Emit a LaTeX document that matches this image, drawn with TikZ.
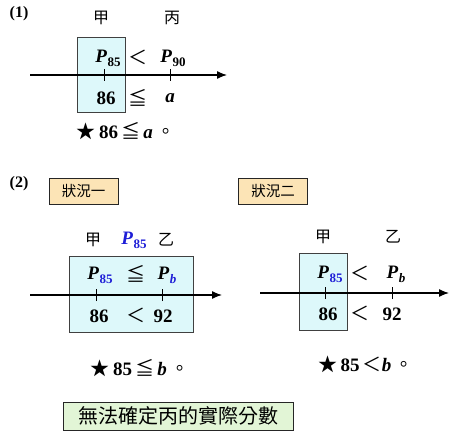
\documentclass[tikz,border=0pt]{standalone}
\usepackage{fontspec}
\setmainfont{Liberation Serif}
\newfontfamily\cjk{Noto Sans CJK TC}
\usetikzlibrary{arrows.meta,positioning}

\definecolor{pblue}{RGB}{30,30,215}
\definecolor{boxcyan}{RGB}{221,248,250}
\definecolor{tagorange}{RGB}{252,228,182}
\definecolor{notegreen}{RGB}{226,245,214}

% P with a lowered subscript
\newcommand{\Psub}[2][black]{\textit{P}\kern0.3pt\raisebox{-4pt}{\fontsize{13}{13}\selectfont\color{#1}#2}}
\newcommand{\cj}[1]{{\cjk\mdseries #1}}

\begin{document}
\begin{tikzpicture}[x=1pt, y=-1pt, node distance=4pt, auto]

    % Define block styles
    \tikzstyle{numbox} = [rectangle, draw=black!75, fill=boxcyan, line width=0.8pt, inner sep=0pt]
    \tikzstyle{tagbox} = [rectangle, draw=black!85, fill=tagorange, line width=0.8pt, font=\cjk\fontsize{14.5}{16}\selectfont, minimum width=69pt, minimum height=26pt, inner sep=0pt]
    \tikzstyle{notebox} = [rectangle, draw=black!85, fill=notegreen, line width=0.9pt, font=\cjk\fontsize{20}{22}\selectfont, minimum width=230pt, minimum height=28pt, inner sep=0pt]
    \tikzstyle{val} = [font=\bfseries\fontsize{19}{21}\selectfont, inner sep=0pt]
    \tikzstyle{han} = [font=\cjk\fontsize{16}{18}\selectfont, inner sep=0pt]
    \tikzstyle{axis} = [draw, line width=1.3pt, -{Latex[length=10pt,width=8pt]}]
    \tikzstyle{tick} = [draw, line width=1pt]

    \useasboundingbox (0,0) rectangle (450,433);

    % ---------- (1) ----------
    \node [val, font=\bfseries\fontsize{16}{18}\selectfont] (lab1) at (19,14) {(1)};
    \node [han] (jia1) at (101,18) {甲};
    \node [han] (bing1) at (172,18) {丙};
    \node [numbox, minimum width=48pt, minimum height=75pt] (box1) at (101,74.5) {};
    \coordinate (axA1) at (30,75);
    \coordinate (axB1) at (227,75);
    \coordinate (t1a) at (104,75);
    \coordinate (t1b) at (170,75);
    \node [val] (p85a) at (108,58) {\Psub{85}};
    \node [val] (lt1) at (138,57) {\cj{＜}};
    \node [val] (p90) at (173,58) {\Psub{90}};
    \node [val] (v86a) at (106,98) {86};
    \node [val] (le1) at (138,98) {\cj{≦}};
    \node [val] (va) at (170,98) {\textit{a}};
    \node [val] (res1) at (126,131) {\cj{★}\,86\,\cj{≦}\,\textit{a}\,\cj{。}};

    % ---------- (2) ----------
    \node [val, font=\bfseries\fontsize{16}{18}\selectfont] (lab2) at (19,184) {(2)};
    \node [tagbox] (case1) at (83.5,191) {狀況一};
    \node [tagbox] (case2) at (273,191) {狀況二};

    % situation one
    \node [han] (jia2) at (93,240) {甲};
    \node [val, text=pblue] (p85top) at (134,240) {\Psub[pblue]{85}};
    \node [han] (yi2) at (166,240) {乙};
    \node [numbox, minimum width=124pt, minimum height=76pt] (box2) at (131,294) {};
    \coordinate (axA2) at (30,295);
    \coordinate (axB2) at (222,295);
    \coordinate (t2a) at (96,295);
    \coordinate (t2b) at (162,295);
    \node [val] (p85b) at (100,275) {\Psub[pblue]{85}};
    \node [val] (le2) at (136,274) {\cj{≦}};
    \node [val] (pb1) at (167,275) {\Psub[pblue]{\textit{b}}};
    \node [val] (v86b) at (99,316) {86};
    \node [val] (lt2) at (136,315) {\cj{＜}};
    \node [val] (v92a) at (163,316) {92};
    \node [val] (res2) at (140,368) {\cj{★}\,85\,\cj{≦}\,\textit{b}\,\cj{。}};

    % situation two
    \node [han] (jia3) at (323,237) {甲};
    \node [han] (yi3) at (393,237) {乙};
    \node [numbox, minimum width=48pt, minimum height=77pt] (box3) at (323,291.5) {};
    \coordinate (axA3) at (260,293);
    \coordinate (axB3) at (449,293);
    \coordinate (t3a) at (325,293);
    \coordinate (t3b) at (392,293);
    \node [val] (p85c) at (330,274) {\Psub[pblue]{85}};
    \node [val] (lt3) at (360,273) {\cj{＜}};
    \node [val] (pb2) at (396,274) {\Psub{\textit{b}}};
    \node [val] (v86c) at (328,314) {86};
    \node [val] (lt4) at (360,313) {\cj{＜}};
    \node [val] (v92b) at (392,314) {92};
    \node [val] (res3) at (366,364) {\cj{★}\,85\,\cj{＜}\textit{b}\,\cj{。}};

    \node [notebox] (note) at (178,416) {無法確定丙的實際分數};

    % Axes and ticks
    \path [axis] (axA1) -- (axB1);
    \path [axis] (axA2) -- (axB2);
    \path [axis] (axA3) -- (axB3);
    \foreach \t in {t1a,t1b,t2a,t2b,t3a,t3b}
        \path [tick] ([yshift=-6pt]\t) -- ([yshift=6pt]\t);

\end{tikzpicture}
\end{document}
